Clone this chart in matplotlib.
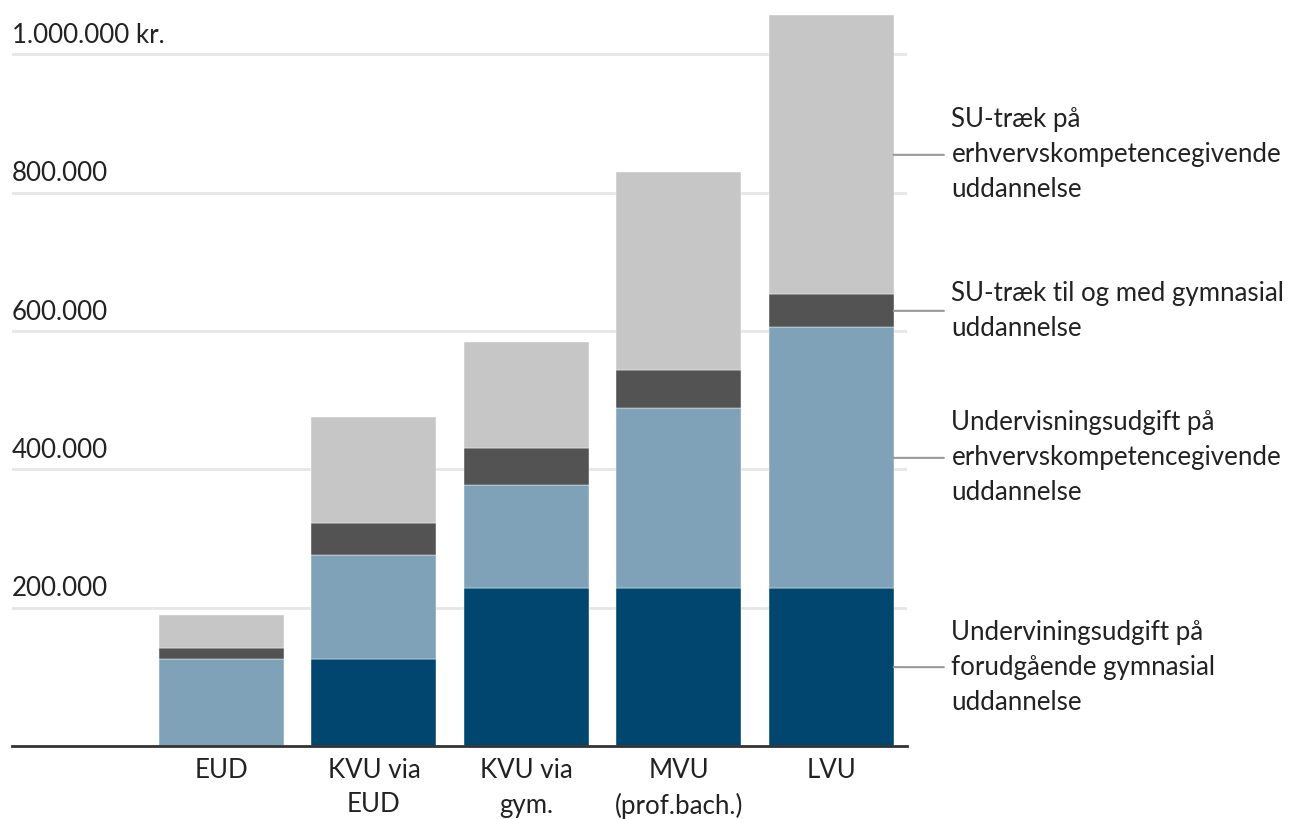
import numpy as np
import matplotlib.pyplot as plt
import matplotlib.transforms as mtransforms

plt.rcParams['font.family'] = ['Lato', 'DejaVu Sans']

categories = ['EUD', 'KVU via\nEUD', 'KVU via\ngym.', 'MVU\n(prof.bach.)', 'LVU']
# values in 1000 kr.
gym_pre = [0, 126, 228, 228, 228]   # Undervisningsudgift på forudgående gymnasial udd.
edu = [126, 150, 149, 260, 377]     # Undervisningsudgift på erhvervskompetencegivende udd.
su_gym = [15, 47, 54, 56, 48]       # SU-træk til og med gymnasial udd.
su_edu = [48, 153, 153, 286, 403]   # SU-træk på erhvervskompetencegivende udd.

series = [gym_pre, edu, su_gym, su_edu]
colors = ['#00466e', '#7fa2b8', '#535353', '#c6c6c6']
labels = ['Underviningsudgift på\nforudgående gymnasial\nuddannelse',
          'Undervisningsudgift på\nerhvervskompetencegivende\nuddannelse',
          'SU-træk til og med gymnasial\nuddannelse',
          'SU-træk på\nerhvervskompetencegivende\nuddannelse']

yticks = [200, 400, 600, 800, 1000]
ytick_labels = ['200.000', '400.000', '600.000', '800.000', '1.000.000 kr.']

fs = 18.6

fig = plt.figure(figsize=(12.92, 8.19), dpi=100)
ax = fig.add_axes([12/1292, 1-746/819, (907-12)/1292, (746-12)/819])

x = np.arange(len(categories))
w = 0.82
bottom = np.zeros(len(categories))
for vals, c in zip(series, colors):
    ax.bar(x, vals, w, bottom=bottom, color=c, edgecolor='#ffffff', linewidth=0.3, zorder=3)
    bottom += np.array(vals)

ax.set_xlim(-1.375, 4.498)
ax.set_ylim(0, 1061)

for s in ['top', 'right', 'left']:
    ax.spines[s].set_visible(False)
ax.spines['bottom'].set_color('#333333')
ax.spines['bottom'].set_linewidth(2)
ax.spines['bottom'].set_zorder(4)

ax.set_yticks([])
for v in yticks:
    ax.axhline(v, color='#e6e6e6', lw=2, zorder=1)
trans = mtransforms.blended_transform_factory(ax.transAxes, ax.transData)
for v, t in zip(yticks, ytick_labels):
    ax.text(0, v + 9, t, transform=trans, ha='left', va='bottom',
            fontsize=fs, color='#222222')

ax.set_xticks(x)
ax.set_xticklabels(categories, fontsize=fs, color='#222222', linespacing=1.45)
ax.tick_params(axis='x', length=0, pad=9)

# labels to the right of last bar
last = len(categories) - 1
base = 0
xr = last + w / 2
for vals, lab in zip(series, labels):
    mid = base + vals[last] / 2
    base += vals[last]
    ax.annotate('', xy=(xr, mid), xytext=(xr + 0.33, mid),
                arrowprops=dict(arrowstyle='-', color='#999999', lw=1.5,
                                shrinkA=0, shrinkB=0),
                annotation_clip=False)
    ax.text(xr + 0.38, mid, lab, ha='left', va='center', fontsize=fs,
            color='#222222', linespacing=1.5, clip_on=False)

fig.savefig('out.png', dpi=100)
